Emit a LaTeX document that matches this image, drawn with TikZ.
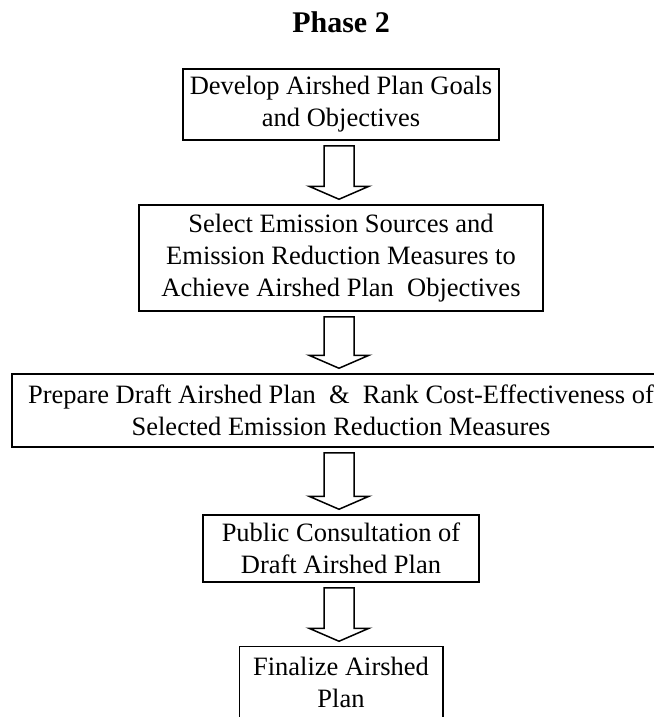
\documentclass[tikz,border=0pt]{standalone}
\usepackage{fontspec}
\setmainfont{Liberation Serif}
\usetikzlibrary{calc}
\tikzset{
  box/.style={draw, line width=1.5pt, align=center, inner sep=0pt, font=\fontsize{26.5}{32}\selectfont},
  blk/.style={draw, line width=1.5pt, line join=miter},
  titlefont/.style={font=\bfseries\fontsize{30}{36}\selectfont}
}
\newcommand\blockarr[2]{\draw[blk] let \p1=($(#1.south)+(-2,5)$), \p2=($(#2.north)+(-2,-5)$) in
  (\x1-15pt,\y1) -- (\x1+15pt,\y1) -- (\x1+15pt,\y2+13pt) -- (\x1+30pt,\y2+13pt) -- (\x1,\y2)
  -- (\x1-30pt,\y2+13pt) -- (\x1-15pt,\y2+13pt) -- cycle;}
\begin{document}
\begin{tikzpicture}[x=1pt,y=-1pt]
\useasboundingbox (0,0) rectangle (653,717);
\node[titlefont] (title) at (341,22) {Phase 2};
\node[box, minimum width=316pt, minimum height=71pt] (b1) at (341,104.5) {Develop Airshed Plan Goals\\and Objectives};
\node[box, minimum width=404pt, minimum height=106pt] (b2) at (341,258) {Select Emission Sources and\\Emission Reduction Measures to\\Achieve Airshed Plan\ \ Objectives};
\node[box, minimum width=658pt, minimum height=73pt] (b3) at (341,410.5) {Prepare Draft Airshed Plan\ \ \&\ \ Rank Cost-Effectiveness of\\Selected Emission Reduction Measures};
\node[box, minimum width=276pt, minimum height=67pt] (b4) at (341,548.5) {Public Consultation of\\Draft Airshed Plan};
\node[box, draw=none, minimum width=202pt, minimum height=71pt] (b5) at (341,682.5) {Finalize Airshed\\Plan};
\draw[line width=1.5pt] ($(b5.south west)+(0,10)$) -- (b5.north west) -- (b5.north east) -- ($(b5.south east)+(0,10)$);
\blockarr{b1}{b2}
\blockarr{b2}{b3}
\blockarr{b3}{b4}
\blockarr{b4}{b5}
\end{tikzpicture}
\end{document}
